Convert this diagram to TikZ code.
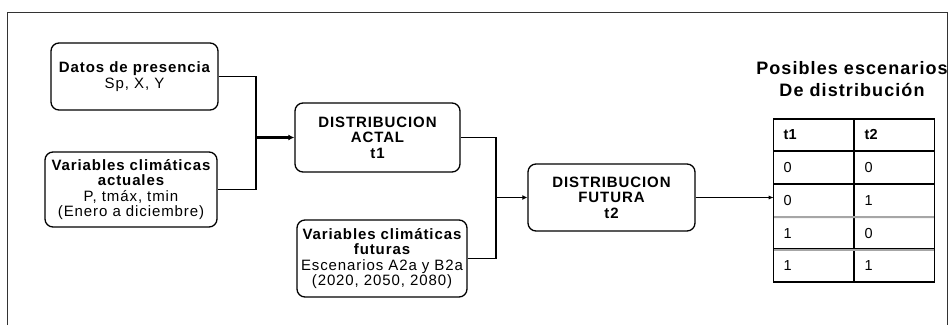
\documentclass[tikz,border=0pt]{standalone}
\usepackage{fontspec}
\setmainfont{Liberation Sans}
\newfontfamily\boxfont[LetterSpace=6]{Liberation Sans}
\newfontfamily\tabfont{Liberation Sans}
\usetikzlibrary{arrows.meta, matrix, positioning}

\begin{document}
\begin{tikzpicture}[x=1pt, y=-1pt,
		box/.style={draw, rounded corners=8pt, line width=1.3pt, align=center, inner sep=0pt, font=\fontsize{15}{15.5}\boxfont\bfseries},
		cell/.style={draw, line width=1pt, minimum width=80pt, minimum height=31.8pt, text width=60pt, inner xsep=10pt, inner ysep=0pt, outer sep=0pt, align=left, font=\fontsize{14.5}{16}\tabfont},
		head/.style={font=\fontsize{14.5}{16}\tabfont\bfseries},
		link/.style={line width=1.3pt}]
			\useasboundingbox (0,0) rectangle (952,325);
			\draw[line width=1pt, black!80] (7,325) |- (947,12) -- (947,325);

			\node[box, minimum width=167pt, minimum height=67pt] (datos) at (134.5,76.5) {Datos de presencia\\{\mdseries Sp, X, Y}};
			\node[box, minimum width=172pt, minimum height=75pt] (varact) at (131,189.5) {Variables climáticas\\actuales\\{\mdseries P, tmáx, tmin}\\{\mdseries (Enero a diciembre)}};

			\node[box, minimum width=165pt, minimum height=69pt] (actual) at (377.5,137.5) {DISTRIBUCION\\ACTAL\\t1};
			\node[box, minimum width=170pt, minimum height=77pt] (varfut) at (382,258.5) {Variables climáticas\\futuras\\{\mdseries Escenarios A2a y B2a}\\{\mdseries (2020, 2050, 2080)}};

			\node[box, minimum width=167pt, minimum height=67pt] (futura) at (611.5,197.5) {DISTRIBUCION\\FUTURA\\t2};

			\node[font=\fontsize{18}{22}\boxfont\bfseries, align=center] (titulo) at (852,79) {Posibles escenarios\\De distribución};

			\matrix (tab) at (773,118) [matrix of nodes, anchor=north west, inner sep=0pt, nodes={cell}, column sep=0pt, row sep=0pt] {
				|[head]| t1 & |[head]| t2 \\
				0 & 0 \\
				0 & 1 \\
				1 & 0 \\
				1 & 1 \\
			};
			\foreach \r in {4,5} {
				\draw[black!35, line width=2pt] (tab-\r-1.north west) -- (tab-\r-2.north east);
			}
			\draw[line width=1.5pt] (tab-1-1.north west) rectangle (tab-5-2.south east);

			\coordinate (j1) at (256,137.5);
			\coordinate (j2) at (496,197.5);

			\foreach \from / \to / \via in {datos/varact/j1, actual/varfut/j2} {
				\draw[link] (\from.east) -| (\via) |- (\to.east);
			}
			\draw[line width=3pt, -{Latex[length=6pt,width=6pt]}] (j1) -- (actual.west);
			\draw[link, -{Latex[length=5pt,width=5pt]}] (j2) -- (futura.west);
			\draw[line width=1pt, -{Latex[length=5pt,width=4pt]}] (futura.east) -- (futura.east -| tab-3-1.west);
		\end{tikzpicture}
\end{document}
